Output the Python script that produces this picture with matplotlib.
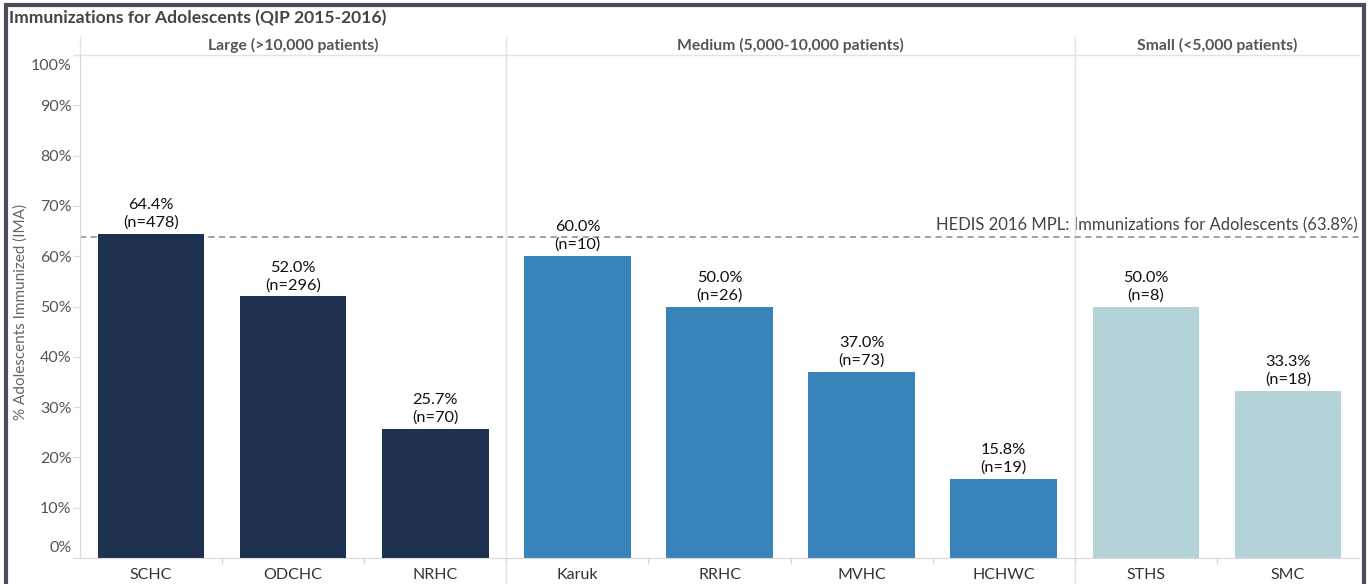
import numpy as np
import matplotlib
matplotlib.use('Agg')
import matplotlib.pyplot as plt
import matplotlib.transforms as mtransforms
from matplotlib.patches import Rectangle

plt.rcParams['font.family'] = ['Lato', 'DejaVu Sans']

# data
groups = ['Large (>10,000 patients)', 'Medium (5,000-10,000 patients)', 'Small (<5,000 patients)']
group_sizes = [3, 4, 2]
clinics = ['SCHC', 'ODCHC', 'NRHC', 'Karuk', 'RRHC', 'MVHC', 'HCHWC', 'STHS', 'SMC']
pct = [64.4, 52.0, 25.7, 60.0, 50.0, 37.0, 15.8, 50.0, 33.3]
n_pat = [478, 296, 70, 10, 26, 73, 19, 8, 18]
hedis = 63.8
group_colors = ['#1f3150', '#3883ba', '#b4d4d9']

W, H = 1372, 584
fig = plt.figure(figsize=(W / 100, H / 100), dpi=100)
left, right, bottom, top = 80, 1359, 558, 55
ax = fig.add_axes([left / W, 1 - bottom / H, (right - left) / W, (bottom - top) / H])

colors = []
for g, s in enumerate(group_sizes):
    colors += [group_colors[g]] * s

x = np.arange(len(clinics))
ax.bar(x, pct, width=0.75, color=colors, zorder=2)
ax.set_xlim(-0.5, len(clinics) - 0.5)
ax.set_ylim(0, 100)

for xi, p, n in zip(x, pct, n_pat):
    ax.annotate('%.1f%%\n(n=%d)' % (p, n), (xi, p), xytext=(0, 3), textcoords='offset points',
                ha='center', va='bottom', fontsize=11.8, color='#111111', linespacing=1.3, zorder=3)

# reference line
ax.axhline(hedis, color='#888888', linestyle=(0, (4, 3)), linewidth=1.1, zorder=1)
ax.text(len(clinics) - 0.51, hedis + 0.8, 'HEDIS 2016 MPL: Immunizations for Adolescents (63.8%)',
        ha='right', va='bottom', fontsize=12, color='#444444', zorder=0)

# axes styling
for sp in ['top', 'right']:
    ax.spines[sp].set_visible(False)
ax.spines['left'].set_color('#d9d9d9')
ax.spines['bottom'].set_color('#d9d9d9')
ax.set_yticks(np.arange(0, 101, 10))
ax.set_yticklabels(['%d%%' % v for v in range(0, 101, 10)])
ax.tick_params(axis='y', length=5, color='#d9d9d9', labelsize=11.5, labelcolor='#555555', pad=1)
ax.set_xticks(x)
ax.set_xticklabels(clinics)
ax.tick_params(axis='x', length=0, labelsize=11.5, labelcolor='#333333', pad=7)
ylabels = ax.get_yticklabels()
ylabels[0].set_verticalalignment('bottom')
ylabels[-1].set_verticalalignment('top')
ylabels[0].set_transform(ylabels[0].get_transform() + mtransforms.ScaledTranslation(0, 2 / 72, fig.dpi_scale_trans))
ylabels[-1].set_transform(ylabels[-1].get_transform() + mtransforms.ScaledTranslation(0, -3 / 72, fig.dpi_scale_trans))
ax.set_ylabel('% Adolescents Immunized (IMA)', fontsize=11, color='#666666')
ax.yaxis.set_label_coords(-52 / (right - left), 0.49)

# small ticks between bars at the bottom
bounds = np.arange(len(clinics) + 1) - 0.5
for b in bounds[1:-1]:
    ax.plot([b, b], [0, -0.9], color='#d9d9d9', lw=1, clip_on=False)

# group separators and header
edges = np.cumsum([0] + group_sizes) - 0.5
for e in edges[1:-1]:
    ax.plot([e, e], [-6, 103.6], color='#e3e3e3', lw=1, clip_on=False, zorder=0)
ax.plot([edges[0], edges[0]], [100, 103.6], color='#e3e3e3', lw=1, clip_on=False)
ax.plot([-0.54, edges[-1]], [100, 100], color='#e3e3e3', lw=1, clip_on=False)
for g, name in enumerate(groups):
    ax.text((edges[g] + edges[g + 1]) / 2, 101.9, name, ha='center', va='center',
            fontsize=11.3, fontweight='bold', color='#555555')

fig.text(9 / W, 1 - 18 / H, 'Immunizations for Adolescents (QIP 2015-2016)', ha='left', va='center',
         fontsize=12.6, fontweight='bold', color='#444444')

# dashboard frame
fig.patches.append(Rectangle((6 / W, -0.1), (1364 - 6) / W, 1.1 - 5 / H, transform=fig.transFigure,
                             fill=False, edgecolor='#4b4b5a', linewidth=3))

fig.savefig('out.png', dpi=100)
